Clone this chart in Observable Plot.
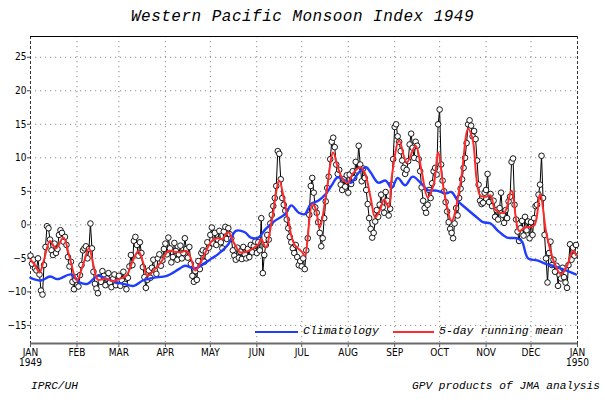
<!DOCTYPE html>
<html><head><meta charset="utf-8">
<script src="https://cdn.jsdelivr.net/npm/d3@7"></script>
<script src="https://cdn.jsdelivr.net/npm/@observablehq/plot@0.6"></script>
<style>
body{margin:0;background:#fff;width:605px;height:403px;overflow:hidden;position:relative;}
#title{position:absolute;left:0;top:2px;width:605px;height:28px;text-align:center;line-height:28px;}
#titletext{font:italic 16px "Liberation Mono",monospace;color:#000;white-space:nowrap;}
#chart{position:absolute;left:0;top:28px;}
.foot{position:absolute;top:380px;font:italic 11.2px "Liberation Mono",monospace;color:#000;}
.leg{position:absolute;font:italic 11.5px "Liberation Mono",monospace;color:#000;}
.legline{position:absolute;height:2px;}
</style></head><body>
<div id="title"><span id="titletext">Western Pacific Monsoon Index 1949</span></div>
<div id="chart"></div>
<div class="foot" style="left:31px">IPRC/UH</div>
<div class="foot" style="right:5px">GPV products of JMA analysis</div>
<script>
// ---- data (daily index values) ----
const jan = [-4.6,-5.8,-5.2,-6.5,-6.8,-5.0,-7.4,-9.8,-10.4,-6.0,-3.3,-0.2,-0.5,-2.2,-3.8,-4.5,-2.8,-4.2,-3.6,-1.5,-0.8,-1.2,-2.5,-1.8,-3.0,-4.8,-6.2,-5.5,-8.5,-9.6,-8.2];
const feb = [-7.8,-9.2,-7.5,-6.0,-3.8,-3.5,-3.2,-5.0,-3.6,0.2,-3.5,-7.0,-8.8,-9.5,-10.2,-7.8,-8.5,-6.9,-7.6,-9.0,-8.0,-7.2,-8.6,-9.3,-8.1,-7.4,-9.0,-8.4];
const mar = [-7.6,-9.1,-8.3,-7.0,-8.8,-9.6,-7.9,-6.2,-4.5,-6.0,-2.4,-1.8,-3.0,-4.6,-2.6,-4.2,-6.3,-7.8,-9.4,-8.2,-6.8,-7.9,-6.4,-5.2,-6.8,-7.3,-5.0,-4.4,-6.1,-5.3,-3.6];
const apr = [-2.8,-4.4,-1.9,-3.5,-5.6,-4.8,-2.7,-3.9,-5.2,-4.4,-3.1,-5.0,-4.2,-2.0,-3.6,-4.9,-3.3,-5.8,-7.6,-8.5,-6.9,-8.2,-5.4,-6.6,-4.2,-3.8,-5.5,-4.0,-2.6,-3.4];
const may = [-1.5,-0.4,-2.8,-1.2,-3.0,-2.2,-0.9,-2.6,-3.5,-1.0,-0.3,-2.1,-0.5,-1.4,-2.0,-3.8,-4.6,-5.2,-3.4,-4.9,-4.0,-5.1,-3.3,-4.4,-5.0,-3.6,-4.8,-3.0,-4.1,-3.2,-2.5];
const jun = [-4.2,-2.6,-3.8,1.0,-7.2,-4.5,-3.0,-1.5,-2.2,0.2,1.5,2.8,4.0,5.8,11.0,10.6,6.8,4.0,3.0,2.1,0.8,-0.5,-1.8,-2.6,-3.5,-4.2,-3.0,-4.8,-6.0,-5.4];
const jul = [-6.2,-5.0,-6.6,-3.8,-2.0,1.5,5.8,7.0,4.8,2.6,1.8,0.4,-1.2,-3.2,-2.0,1.0,3.5,5.5,7.2,9.8,12.4,13.0,11.6,9.0,7.6,8.2,6.0,5.2,6.8,5.7,7.4];
const aug = [4.8,7.5,6.1,8.0,7.0,9.4,8.1,11.8,9.0,6.5,8.4,7.0,5.2,3.1,1.0,-0.6,-1.9,-1.2,0.5,2.2,1.2,3.0,4.5,2.6,1.8,4.9,3.6,1.4,2.4,6.0,9.8];
const sep = [14.6,15.0,13.2,12.4,11.0,9.6,8.5,7.6,8.2,9.5,12.0,13.6,11.5,10.0,12.4,11.8,9.8,8.0,5.6,3.6,2.5,1.8,3.0,5.2,4.0,6.2,8.0,8.5,7.5,15.0];
const oct = [17.2,9.0,6.6,5.0,3.4,2.0,0.4,-0.6,-1.2,-2.0,0.2,2.5,1.4,4.0,5.4,6.8,8.5,10.0,12.2,15.0,15.6,14.8,13.2,14.0,12.8,9.6,6.0,3.6,3.1,3.3,4.8];
const nov = [5.2,7.6,3.4,4.6,2.8,3.6,1.2,2.2,0.8,2.5,4.8,1.5,0.3,2.2,1.0,3.5,4.2,9.4,9.9,3.0,0.8,-1.0,-2.4,-0.5,0.6,-1.6,1.2,-0.8,0.5,-2.0];
const dec = [0.4,-1.5,1.0,2.8,3.0,4.5,6.0,10.3,4.0,-1.5,-5.0,-8.6,-4.2,-2.5,-6.0,-5.2,-7.0,-6.1,-9.1,-7.5,-8.0,-6.4,-7.8,-8.6,-9.4,-6.0,-2.9,-5.2,-3.4,-4.6,-3.0];

// 5-day running mean (day of year, value)
const meanDay = [0,3,6,9,13,17,22,26,31,35,39,42,45,50,55,60,64,68,72,75,78,83,87,92,96,100,104,107,110,115,121,125,128,132,136,140,144,147,152,154,157,161,166,169,172,176,181,183,188,190,193,197,202,205,209,212,215,220,223,227,230,233,236,239,241,246,251,257,261,265,269,272,276,281,287,292,295,300,304,307,310,316,321,326,330,336,340,344,347,350,354,358,362,364];
const meanVal = [-5.2,-6.0,-7.1,-5.2,-2.4,-3.5,-1.9,-4.8,-8.3,-6.0,-3.5,-6.0,-8.2,-8.0,-8.4,-8.0,-7.6,-5.5,-3.9,-5.5,-7.6,-6.6,-5.6,-3.9,-4.0,-4.1,-3.9,-5.0,-6.8,-4.9,-2.4,-2.0,-2.1,-1.1,-2.8,-4.1,-4.0,-3.7,-2.9,-2.1,-3.4,0.6,6.6,4.0,0.6,-2.9,-4.0,-4.6,3.1,2.6,-0.4,4.1,10.8,8.6,6.6,6.3,7.6,8.6,7.8,4.0,1.1,2.1,3.8,2.6,7.0,12.6,9.3,11.8,8.0,4.1,6.0,10.8,5.0,0.6,6.3,14.3,12.8,4.4,4.2,4.4,2.3,1.8,5.1,-0.9,-0.4,-0.1,4.6,-1.0,-3.9,-5.9,-7.4,-6.1,-3.9,-4.5];

// climatology (day of year, value)
const climDay = [0,7,13,18,27,33,38,45,51,58,62,69,75,82,91,99,103,110,117,121,125,132,137,143,147,152,157,163,170,174,179,183,187,192,197,201,205,210,214,219,224,227,232,237,241,245,250,255,261,265,271,277,281,285,291,299,302,307,312,318,325,328,332,338,345,350,355,363,364];
const climVal = [-7.9,-8.3,-7.7,-8.1,-7.4,-8.6,-8.8,-7.6,-8.1,-8.6,-8.8,-9.1,-8.3,-7.9,-7.6,-6.6,-6.1,-6.5,-5.6,-5.0,-4.4,-2.9,-0.9,-1.1,-1.9,-1.9,-0.6,0.6,1.6,2.9,1.8,1.6,3.1,3.6,4.6,5.9,7.1,6.6,6.3,7.8,8.6,7.8,6.3,6.6,5.5,7.0,5.9,7.2,6.1,5.2,5.1,4.7,4.9,3.6,2.4,0.9,0.4,0.2,-0.9,-1.9,-2.0,-2.5,-5.0,-5.3,-5.9,-6.2,-6.6,-7.3,-7.4];

const monthStart = [0,31,59,90,120,151,181,212,243,273,304,334,365];
const monthLabels = ["JAN\n1949","FEB","MAR","APR","MAY","JUN","JUL","AUG","SEP","OCT","NOV","DEC","JAN\n1950"];
const yTicks = [-15,-10,-5,0,5,10,15,20,25];
const xDomain = [0,365];
const yDomain = [-17.7,28.1];

// ---- build tables ----
const values = [jan,feb,mar,apr,may,jun,jul,aug,sep,oct,nov,dec].flat();
const daily = values.map((v,i)=>({day:i, value:v}));
const mean5 = meanDay.map((d,i)=>({day:d, value:meanVal[i]}));
const clim = climDay.map((d,i)=>({day:d, value:climVal[i]}));
const labelOf = new Map(monthStart.map((d,i)=>[d, monthLabels[i]]));

// title: fit the wide spacing of the original (about 343px across)
const tt = document.getElementById("titletext");
const natural = tt.getBoundingClientRect().width;
const nChars = tt.textContent.length;
tt.style.letterSpacing = ((343 - natural) / nChars) + "px";

const grid = {stroke:"#8c8c8c", strokeOpacity:1, strokeWidth:1, strokeDasharray:"1.2,3.8"};

const chart = Plot.plot({
  width: 605, height: 345,
  marginLeft: 30, marginRight: 28, marginTop: 8, marginBottom: 30,
  x: {domain: xDomain},
  y: {domain: yDomain},
  style: {fontFamily: "'Liberation Sans Narrow','DejaVu Sans Condensed',sans-serif", fontSize: "10px", background: "#fff", color:"#000", overflow:"visible"},
  marks: [
    Plot.ruleY(yTicks, grid),
    Plot.ruleX(monthStart.slice(1,-1), grid),
    Plot.ruleX(xDomain, {stroke:"#333", strokeWidth:1, strokeDasharray:"3,2"}),
    Plot.ruleY([yDomain[1]], {stroke:"#000", strokeWidth:1.2}),
    Plot.axisY(yTicks, {tickSize:3, tickPadding:1, stroke:"#444", label:null}),
    Plot.axisX(monthStart, {tickFormat: d => labelOf.get(d), tickSize:4, tickPadding:1, stroke:"#555", label:null}),
    Plot.ruleY([yDomain[0]], {stroke:"#6a6a6a", strokeWidth:2}),
    Plot.line(daily, {x:"day", y:"value", stroke:"#000", strokeWidth:1}),
    Plot.dot(daily, {x:"day", y:"value", r:2.8, fill:"#fff", stroke:"#000", strokeWidth:0.9}),
    Plot.line(clim, {x:"day", y:"value", stroke:"#1f3cff", strokeWidth:2.4, curve:"catmull-rom"}),
    Plot.line(mean5, {x:"day", y:"value", stroke:"#ff2b2b", strokeWidth:2, curve:"catmull-rom"})
  ]
});
const holder = document.getElementById("chart");
holder.appendChild(chart);

// legend (HTML overlay)
const legend = [
  {label:"Climatology", color:"#1f3cff", left:255, w:43},
  {label:"5-day running mean", color:"#ff2b2b", left:393, w:41}
];
for (const l of legend) {
  const ln = document.createElement("div");
  ln.className = "legline";
  ln.style.cssText = `left:${l.left}px;top:303px;width:${l.w}px;background:${l.color};`;
  holder.appendChild(ln);
  const tx = document.createElement("div");
  tx.className = "leg";
  tx.style.cssText = `left:${l.left + l.w + 5}px;top:296px;`;
  tx.textContent = l.label;
  holder.appendChild(tx);
}
</script>
</body></html>
